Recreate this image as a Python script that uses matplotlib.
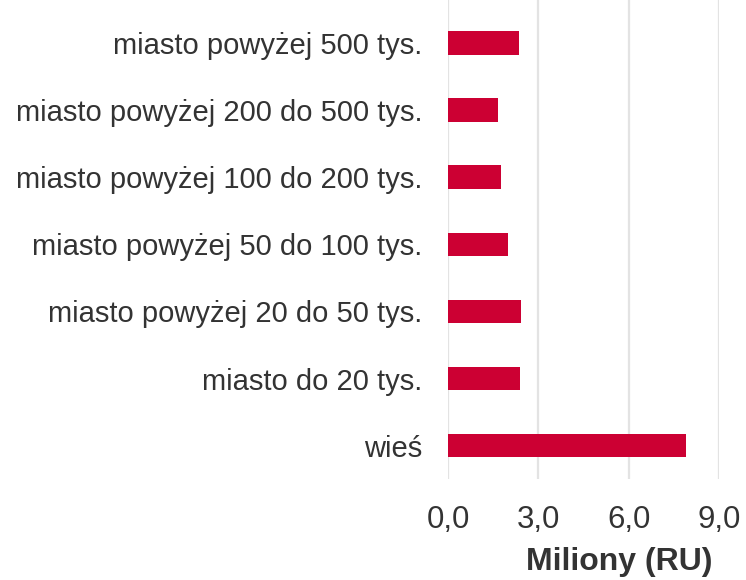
import matplotlib
matplotlib.use("Agg")
import matplotlib.pyplot as plt
from matplotlib.ticker import FuncFormatter

categories = ["wieś", "miasto do 20 tys.", "miasto powyżej 20 do 50 tys.",
              "miasto powyżej 50 do 100 tys.", "miasto powyżej 100 do 200 tys.",
              "miasto powyżej 200 do 500 tys.", "miasto powyżej 500 tys."]
values = [7.9, 2.39, 2.41, 2.0, 1.75, 1.66, 2.37]
xticks = [0, 3, 6, 9]

plt.rcParams['font.family'] = ['Liberation Sans', 'DejaVu Sans']

fig = plt.figure(figsize=(7.46, 5.8), dpi=100)
ax = fig.add_axes([448/746, 1 - 479/580, (719.3 - 448)/746, 479/580])

ax.barh(range(len(categories)), values, height=0.35, color="#CC0033", zorder=3)
ax.set_yticks(range(len(categories)))
ax.set_yticklabels(categories)
ax.set_ylim(-0.496, 6.64)
ax.set_xlim(0, 9)
ax.set_xticks(xticks)
ax.xaxis.set_major_formatter(FuncFormatter(lambda v, p: f"{v:.1f}".replace(".", ",")))

ax.grid(axis="x", color="#e3e3e3", linewidth=1.6, zorder=0)
ax.grid(axis="y", visible=False)
for s in ax.spines.values():
    s.set_visible(False)
ax.tick_params(axis="both", length=0, colors="#333333")
ax.tick_params(axis="y", labelsize=21, pad=18.5)
ax.tick_params(axis="x", labelsize=22.5, pad=18.5)
fig.text(619/746, 1 - 562/580, "Miliony (RU)", fontsize=23, fontweight="bold",
         color="#333333", ha="center", va="center")

fig.savefig("out.png", dpi=100)
